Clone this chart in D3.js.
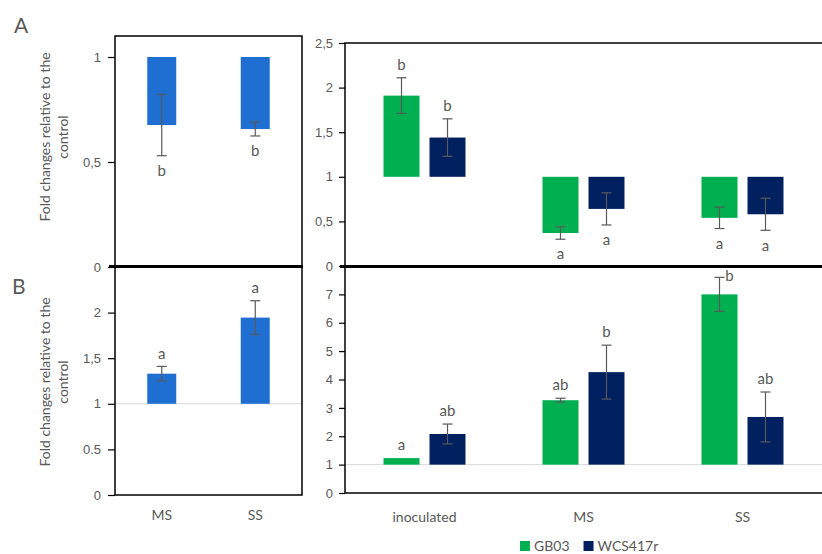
<!DOCTYPE html>
<html>
<head>
<meta charset="utf-8">
<script src="https://cdn.jsdelivr.net/npm/d3@7"></script>
<style>
  body { margin: 0; background: #fff; }
  svg { display: block; font-family: Lato, "Open Sans", sans-serif; }
  .tick text { fill: #595959; font-size: 13px; }
  .tick line { stroke: #000; }
  .domain { display: none; }
</style>
</head>
<body>
<svg id="chart" width="822" height="554"></svg>
<script>
// ---- data ----
const leftCats = ["MS", "SS"];
const groups = ["inoculated", "MS", "SS"];
const strains = ["GB03", "WCS417r"];

// panel A (fold change, bars hang from 1)
const aLeftValues = [0.676, 0.657];
const aLeftErrors = [0.146, 0.033];
const aLeftLetters = ["b", "b"];
const aGB03 = [1.91, 0.37, 0.54];
const aGB03Err = [0.20, 0.07, 0.12];
const aWCS = [1.44, 0.64, 0.58];
const aWCSErr = [0.21, 0.18, 0.18];
const aGB03Letters = ["b", "a", "a"];
const aWCSLetters = ["b", "a", "a"];

// panel B
const bLeftValues = [1.33, 1.945];
const bLeftErrors = [0.08, 0.185];
const bLeftLetters = ["a", "a"];
const bGB03 = [1.23, 3.27, 7.0];
const bGB03Err = [0.0, 0.07, 0.6];
const bWCS = [2.08, 4.26, 2.68];
const bWCSErr = [0.35, 0.95, 0.88];
const bGB03Letters = ["a", "ab", "b"];
const bWCSLetters = ["ab", "b", "ab"];

// tick labels
const aLeftTicks = [0, 0.5, 1];
const aLeftTickLabels = ["0", "0,5", "1"];
const aRightTicks = [0, 0.5, 1, 1.5, 2, 2.5];
const aRightTickLabels = ["0", "0,5", "1", "1,5", "2", "2,5"];
const bLeftTicks = [0, 0.5, 1, 1.5, 2];
const bLeftTickLabels = ["0", "0.5", "1", "1,5", "2"];
const bRightTicks = [0, 1, 2, 3, 4, 5, 6, 7];
const bRightTickLabels = ["0", "1", "2", "3", "4", "5", "6", "7"];

// ---- style ----
const BLUE = "#1f6fd2", GREEN = "#00b050", NAVY = "#002060";
const TEXT = "#595959", ERR = "#595959";
const strainColor = d3.scaleOrdinal(strains, [GREEN, NAVY]);

const svg = d3.select("#chart");

// panel geometry
const L = { x0: 115, x1: 302 };
const R = { x0: 345, x1: 822 };
const midY = 266.5;

const yAL = d3.scaleLinear([0, 1.1], [267, 36]);
const yAR = d3.scaleLinear([0, 2.5], [266, 43]);
const yBL = d3.scaleLinear([0, 2.5], [495, 267]);
const yBR = d3.scaleLinear([0, 8], [493, 266]);

const xLeft = d3.scalePoint(leftCats, [L.x0, L.x1]).padding(0.5);
const xGroup = d3.scaleBand(groups, [R.x0, R.x1]);
const xStrain = d3.scaleBand(strains, [-41, 41]).paddingInner(10 / 46).paddingOuter(0);
const leftBarW = 29;

// reference line at 1 in the lower panels
svg.append("line").attr("x1", L.x0).attr("x2", L.x1).attr("y1", yBL(1)).attr("y2", yBL(1))
  .attr("stroke", "#d9d9d9").attr("stroke-width", 1);
svg.append("line").attr("x1", R.x0).attr("x2", R.x1).attr("y1", yBR(1)).attr("y2", yBR(1))
  .attr("stroke", "#d9d9d9").attr("stroke-width", 1);

// axes
function yAxis(scale, x, ticks, labels, size, pad) {
  const g = svg.append("g").attr("transform", `translate(${x},0)`)
    .call(d3.axisLeft(scale).tickValues(ticks).tickSize(size).tickPadding(pad)
      .tickFormat((d, i) => labels[i]));
  g.selectAll(".tick line").attr("stroke-width", 1.2);
  return g;
}
yAxis(yAL, L.x0, aLeftTicks, aLeftTickLabels, 7, 7);
yAxis(yAR, R.x0, aRightTicks, aRightTickLabels, 6, 6);
const gBL = yAxis(yBL, L.x0, bLeftTicks, bLeftTickLabels, 7, 7);
const gBR = yAxis(yBR, R.x0, bRightTicks, bRightTickLabels, 6, 6);

// frames
const frame = svg.append("g").attr("stroke", "#000").attr("fill", "none");
frame.append("path").attr("stroke-width", 1.5)
  .attr("d", `M${L.x0},${midY}V36H${L.x1}V${midY}`);
frame.append("path").attr("stroke-width", 1.5)
  .attr("d", `M${L.x0},${midY}V495H${L.x1}V${midY}`);
frame.append("path").attr("stroke-width", 1.5)
  .attr("d", `M${R.x1},43H${R.x0}V493H${R.x1}`);
frame.append("line").attr("stroke-width", 3)
  .attr("x1", 109).attr("x2", L.x1 + 1).attr("y1", midY).attr("y2", midY);
frame.append("line").attr("stroke-width", 3)
  .attr("x1", R.x0 - 5).attr("x2", R.x1).attr("y1", midY).attr("y2", midY);

// error bar helper
function errorBar(g, cx, lo, hi, cap) {
  g.append("line").attr("x1", cx).attr("x2", cx).attr("y1", lo).attr("y2", hi);
  g.append("line").attr("x1", cx - cap).attr("x2", cx + cap).attr("y1", lo).attr("y2", lo);
  g.append("line").attr("x1", cx - cap).attr("x2", cx + cap).attr("y1", hi).attr("y2", hi);
}

function letter(x, y, t) {
  svg.append("text").attr("x", x).attr("y", y).attr("dy", "0.35em")
    .attr("text-anchor", "middle").attr("fill", TEXT).attr("font-size", 15).text(t);
}

// bars drawn from the baseline of 1 to the value, with ± error and letter
function drawBar(y, cx, w, v, e, color, lab, topLimit) {
  const g = svg.append("g");
  g.append("rect").attr("x", cx - w / 2).attr("width", w)
    .attr("y", Math.min(y(1), y(v))).attr("height", Math.abs(y(1) - y(v)))
    .attr("fill", color);
  const eg = svg.append("g").attr("stroke", ERR).attr("stroke-width", 1.2);
  if (e > 0) errorBar(eg, cx, y(v - e), y(v + e), 5);
  if (v >= 1) {
    let ly = y(v + e) - 13;
    let lx = cx;
    if (ly < topLimit + 6) { ly = y(v + e) - 2; lx = cx + 10; }
    letter(lx, ly, lab);
  } else {
    letter(cx, y(v - e) + 15, lab);
  }
}

leftCats.forEach((c, i) => {
  drawBar(yAL, xLeft(c), leftBarW, aLeftValues[i], aLeftErrors[i], BLUE, aLeftLetters[i], 36);
  drawBar(yBL, xLeft(c), leftBarW, bLeftValues[i], bLeftErrors[i], BLUE, bLeftLetters[i], 267);
});

groups.forEach((grp, i) => {
  const c = xGroup(grp) + xGroup.bandwidth() / 2;
  const w = xStrain.bandwidth();
  const cG = c + xStrain("GB03") + w / 2;
  const cW = c + xStrain("WCS417r") + w / 2;
  drawBar(yAR, cG, w, aGB03[i], aGB03Err[i], GREEN, aGB03Letters[i], 43);
  drawBar(yAR, cW, w, aWCS[i], aWCSErr[i], NAVY, aWCSLetters[i], 43);
  drawBar(yBR, cG, w, bGB03[i], bGB03Err[i], GREEN, bGB03Letters[i], 266);
  drawBar(yBR, cW, w, bWCS[i], bWCSErr[i], NAVY, bWCSLetters[i], 266);
});

// category labels
leftCats.forEach(c => {
  svg.append("text").attr("x", xLeft(c)).attr("y", 515).attr("dy", "0.35em")
    .attr("text-anchor", "middle").attr("fill", TEXT).attr("font-size", 14).text(c);
});
groups.forEach(grp => {
  svg.append("text").attr("x", xGroup(grp) + xGroup.bandwidth() / 2).attr("y", 517).attr("dy", "0.35em")
    .attr("text-anchor", "middle").attr("fill", TEXT).attr("font-size", 14).text(grp);
});

// y titles
function yTitle(cy) {
  const t = svg.append("text").attr("transform", `translate(45,${cy}) rotate(-90)`)
    .attr("text-anchor", "middle").attr("fill", TEXT).attr("font-size", 14);
  t.append("tspan").attr("x", 0).attr("dy", "0.35em").text("Fold changes relative to the");
  t.append("tspan").attr("x", 0).attr("dy", "1.3em").text("control");
}
yTitle(137);
yTitle(382);

// panel letters
svg.append("text").attr("x", 14).attr("y", 33).attr("fill", TEXT).attr("font-size", 21).text("A");
svg.append("text").attr("x", 12).attr("y", 294).attr("fill", TEXT).attr("font-size", 21).text("B");

// legend
const legend = svg.append("g").attr("transform", "translate(520,546)");
let lx = 0;
strains.forEach(s => {
  legend.append("rect").attr("x", lx).attr("y", -5).attr("width", 10).attr("height", 10)
    .attr("fill", strainColor(s));
  const t = legend.append("text").attr("x", lx + 14).attr("y", 0).attr("dy", "0.35em")
    .attr("fill", TEXT).attr("font-size", 14).text(s);
  lx += 14 + t.node().getComputedTextLength() + 14;
});
</script>
</body>
</html>
